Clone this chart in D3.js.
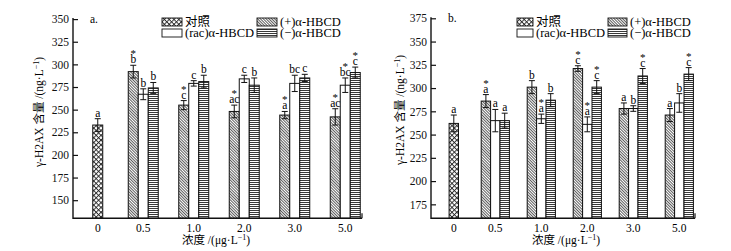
<!DOCTYPE html>
<html>
<head>
<meta charset="utf-8">
<script src="https://cdn.jsdelivr.net/npm/d3@7"></script>
<style>
  html, body { margin: 0; padding: 0; background: #fff; }
  svg { display: block; }
</style>
</head>
<body>
<svg id="chart" width="731" height="251"></svg>
<script>
// γ-H2AX content, two panels (a, b) — grouped bars with error bars and letter marks.

const CONC = ['0', '0.5', '1.0', '2.0', '3.0', '5.0'];
const SERIES = ['plus', 'rac', 'minus'];
const LEGEND = ['对照', '(+)α-HBCD', '(rac)α-HBCD', '(−)α-HBCD'];

// panel a
const A_TICKS = [150, 175, 200, 225, 250, 275, 300, 325, 350];
const A_CTRL = 233, A_CTRL_ERR = 7, A_CTRL_LBL = 'a';
const A_PLUS = [292, 255, 248, 244, 242];
const A_PLUS_ERR = [7, 5, 7, 4, 9];
const A_PLUS_LBL = ['b', 'c', 'ac', 'a', 'ac'];
const A_PLUS_STAR = [1, 1, 1, 1, 1];
const A_RAC = [267, 279, 284, 279, 277];
const A_RAC_ERR = [6, 3, 4, 9, 8];
const A_RAC_LBL = ['b', 'c', 'c', 'bc', 'bc'];
const A_RAC_STAR = [0, 0, 0, 0, 1];
const A_MINUS = [274, 281, 277, 285, 291];
const A_MINUS_ERR = [6, 7, 8, 4, 6];
const A_MINUS_LBL = ['b', 'b', 'b', 'c', 'c'];
const A_MINUS_STAR = [0, 0, 0, 0, 1];

// panel b
const B_TICKS = [175, 200, 225, 250, 275, 300, 325, 350, 375];
const B_CTRL = 262, B_CTRL_ERR = 9, B_CTRL_LBL = 'a';
const B_PLUS = [286, 301, 321, 278, 271];
const B_PLUS_ERR = [7, 7, 3, 6, 7];
const B_PLUS_LBL = ['a', 'b', 'c', 'a', 'a'];
const B_PLUS_STAR = [1, 0, 1, 0, 0];
const B_RAC = [265, 267, 261, 278, 284];
const B_RAC_ERR = [12, 5, 8, 3, 10];
const B_RAC_LBL = ['a', 'a', 'a', 'b', 'b'];
const B_RAC_STAR = [0, 1, 1, 0, 0];
const B_MINUS = [265, 287, 301, 313, 315];
const B_MINUS_ERR = [8, 7, 7, 8, 7];
const B_MINUS_LBL = ['a', 'b', 'c', 'c', 'c'];
const B_MINUS_STAR = [0, 0, 1, 1, 1];

const FONT = '"Liberation Serif", "Times New Roman", "Noto Sans CJK SC", serif';
const CJK = '"Noto Sans CJK SC", sans-serif';
const FILL = { ctrl: 'url(#p-cross)', plus: 'url(#p-diag)', rac: '#fff', minus: 'url(#p-horiz)' };

const svg = d3.select('#chart');
const defs = svg.append('defs');

// patterns
const cross = defs.append('pattern').attr('id', 'p-cross')
  .attr('patternUnits', 'userSpaceOnUse').attr('width', 3.4).attr('height', 3.4)
  .attr('patternTransform', 'rotate(45)');
cross.append('rect').attr('width', 3.4).attr('height', 3.4).attr('fill', '#fff');
cross.append('line').attr('x1', 0).attr('y1', 0.5).attr('x2', 3.4).attr('y2', 0.5).attr('stroke', '#222').attr('stroke-width', 0.9);
cross.append('line').attr('x1', 0.5).attr('y1', 0).attr('x2', 0.5).attr('y2', 3.4).attr('stroke', '#222').attr('stroke-width', 0.9);

const diag = defs.append('pattern').attr('id', 'p-diag')
  .attr('patternUnits', 'userSpaceOnUse').attr('width', 2).attr('height', 2)
  .attr('patternTransform', 'rotate(45)');
diag.append('rect').attr('width', 2).attr('height', 2).attr('fill', '#fff');
diag.append('line').attr('x1', 0).attr('y1', 0.5).attr('x2', 2).attr('y2', 0.5).attr('stroke', '#333').attr('stroke-width', 0.8);

const horiz = defs.append('pattern').attr('id', 'p-horiz')
  .attr('patternUnits', 'userSpaceOnUse').attr('width', 4).attr('height', 2);
horiz.append('rect').attr('width', 4).attr('height', 2).attr('fill', '#fff');
horiz.append('line').attr('x1', 0).attr('y1', 0.5).attr('x2', 4).attr('y2', 0.5).attr('stroke', '#222').attr('stroke-width', 0.9);

function rows(vals, errs, lbls, stars) {
  return vals.map((v, i) => ({ conc: CONC[i + 1], value: v, err: errs[i], lbl: lbls[i], star: stars[i] }));
}

const PANELS = [
  {
    tag: 'a.', ticks: A_TICKS, domain: [130, 350], yRange: [218.3, 19.1],
    xRange: [67.5, 370.5], ctrlShift: 5, barW: 10, axisX: 73, axisRight: 362,
    ctrl: { value: A_CTRL, err: A_CTRL_ERR, lbl: A_CTRL_LBL, star: 0 },
    series: {
      plus: rows(A_PLUS, A_PLUS_ERR, A_PLUS_LBL, A_PLUS_STAR),
      rac: rows(A_RAC, A_RAC_ERR, A_RAC_LBL, A_RAC_STAR),
      minus: rows(A_MINUS, A_MINUS_ERR, A_MINUS_LBL, A_MINUS_STAR)
    },
    tagPos: [90, 23], legend: { x: 162, col2: 257, y: 26, boxW: 20, boxW2: 20 },
    yTitle: [39, 112], xTitle: [216, 244]
  },
  {
    tag: 'b.', ticks: B_TICKS, domain: [160, 375], yRange: [218.3, 18.3],
    xRange: [426.3, 702.3], ctrlShift: 4.5, barW: 9.4, axisX: 431, axisRight: 695,
    ctrl: { value: B_CTRL, err: B_CTRL_ERR, lbl: B_CTRL_LBL, star: 0 },
    series: {
      plus: rows(B_PLUS, B_PLUS_ERR, B_PLUS_LBL, B_PLUS_STAR),
      rac: rows(B_RAC, B_RAC_ERR, B_RAC_LBL, B_RAC_STAR),
      minus: rows(B_MINUS, B_MINUS_ERR, B_MINUS_LBL, B_MINUS_STAR)
    },
    tagPos: [448, 22], legend: { x: 517, col2: 608, y: 26, boxW: 16, boxW2: 19 },
    yTitle: [400, 110], xTitle: [566, 244]
  }
];

PANELS.forEach(drawPanel);

function drawPanel(p) {
  const g = svg.append('g');
  const x = d3.scaleBand().domain(CONC).range(p.xRange).padding(0);
  const xs = d3.scaleBand().domain(SERIES).range([-1.5 * p.barW, 1.5 * p.barW]);
  const y = d3.scaleLinear().domain(p.domain).range(p.yRange);
  const base = y(p.domain[0]);
  const mid = c => x(c) + x.bandwidth() / 2;

  // bars
  const bars = [];
  bars.push({ cx: mid(CONC[0]) + p.ctrlShift, fill: FILL.ctrl, ...p.ctrl });
  SERIES.forEach(s => p.series[s].forEach(d => {
    bars.push({ cx: mid(d.conc) + xs(s) + xs.bandwidth() / 2, fill: FILL[s], ...d });
  }));

  g.selectAll('rect.bar').data(bars).join('rect')
    .attr('class', 'bar')
    .attr('x', d => d.cx - p.barW / 2).attr('width', p.barW)
    .attr('y', d => y(d.value)).attr('height', d => base - y(d.value))
    .attr('fill', d => d.fill).attr('stroke', '#111').attr('stroke-width', 1);

  // error bars
  const eb = g.selectAll('g.err').data(bars).join('g').attr('class', 'err')
    .attr('stroke', '#111').attr('stroke-width', 1);
  eb.append('line').attr('x1', d => d.cx).attr('x2', d => d.cx)
    .attr('y1', d => y(d.value + d.err)).attr('y2', d => y(d.value - d.err));
  eb.append('line').attr('x1', d => d.cx - 3).attr('x2', d => d.cx + 3)
    .attr('y1', d => y(d.value + d.err)).attr('y2', d => y(d.value + d.err));
  eb.append('line').attr('x1', d => d.cx - 3).attr('x2', d => d.cx + 3)
    .attr('y1', d => y(d.value - d.err)).attr('y2', d => y(d.value - d.err));

  // letter marks, star sits above the letter
  g.selectAll('text.lbl').data(bars).join('text').attr('class', 'lbl')
    .attr('x', d => d.cx).attr('y', d => y(d.value + d.err) - 2)
    .attr('text-anchor', 'middle').attr('font-family', FONT).attr('font-size', 11.5)
    .text(d => d.lbl);
  g.selectAll('text.star').data(bars.filter(d => d.star)).join('text').attr('class', 'star')
    .attr('x', d => d.cx).attr('y', d => y(d.value + d.err) - 8)
    .attr('text-anchor', 'middle').attr('font-family', FONT).attr('font-size', 11)
    .text('*');

  // y axis, ticks point inward
  const ya = g.append('g').attr('transform', `translate(${p.axisX},0)`)
    .call(d3.axisLeft(y).tickValues(p.ticks).tickSize(-5).tickPadding(4));
  ya.select('.domain').remove();
  ya.selectAll('line').attr('stroke', '#111').attr('stroke-width', 1.2);
  ya.selectAll('text').attr('font-family', FONT).attr('font-size', 11.5).attr('fill', '#111');
  g.append('line').attr('x1', p.axisX).attr('x2', p.axisX)
    .attr('y1', p.yRange[1] - 1).attr('y2', base + 0.7)
    .attr('stroke', '#111').attr('stroke-width', 1.4);

  // x axis
  g.append('line').attr('x1', p.axisX).attr('x2', p.axisRight)
    .attr('y1', base).attr('y2', base).attr('stroke', '#111').attr('stroke-width', 1.4);
  g.append('line').attr('x1', p.axisRight).attr('x2', p.axisRight)
    .attr('y1', base).attr('y2', base - 5).attr('stroke', '#111').attr('stroke-width', 1.2);
  g.selectAll('text.xt').data(CONC).join('text').attr('class', 'xt')
    .attr('x', (c, i) => mid(c) + (i === 0 ? p.ctrlShift : 0)).attr('y', base + 14)
    .attr('text-anchor', 'middle').attr('font-family', FONT).attr('font-size', 11.5)
    .text(c => c);

  // titles
  const xt = g.append('text').attr('x', p.xTitle[0]).attr('y', p.xTitle[1])
    .attr('text-anchor', 'middle').attr('font-family', FONT).attr('font-size', 11.5);
  xt.append('tspan').attr('font-family', CJK).text('浓度');
  xt.append('tspan').text(' /(μg·L');
  xt.append('tspan').attr('dy', -4).attr('font-size', 8).text('−1');
  xt.append('tspan').attr('dy', 4).text(')');

  const yt = g.append('text')
    .attr('transform', `translate(${p.yTitle[0]},${p.yTitle[1]}) rotate(-90)`)
    .attr('text-anchor', 'middle').attr('dy', 4)
    .attr('font-family', FONT).attr('font-size', 11.5);
  yt.append('tspan').text('γ-H2AX ');
  yt.append('tspan').attr('font-family', CJK).text('含量');
  yt.append('tspan').text(' /(ng·L');
  yt.append('tspan').attr('dy', -4).attr('font-size', 8).text('−1');
  yt.append('tspan').attr('dy', 4).text(')');

  g.append('text').attr('x', p.tagPos[0]).attr('y', p.tagPos[1])
    .attr('font-family', FONT).attr('font-size', 11.5).text(p.tag);

  // legend
  const L = p.legend;
  const items = [
    { name: LEGEND[0], fill: FILL.ctrl, x: L.x, w: L.boxW, row: 0, cjk: true },
    { name: LEGEND[1], fill: FILL.plus, x: L.col2, w: L.boxW2, row: 0 },
    { name: LEGEND[2], fill: FILL.rac, x: L.x, w: L.boxW, row: 1 },
    { name: LEGEND[3], fill: FILL.minus, x: L.col2, w: L.boxW2, row: 1 }
  ];
  const li = g.selectAll('g.leg').data(items).join('g').attr('class', 'leg')
    .attr('transform', d => `translate(${d.x},${L.y + d.row * 11})`);
  li.append('rect').attr('x', 0).attr('y', -8).attr('width', d => d.w).attr('height', 8)
    .attr('fill', d => d.fill).attr('stroke', '#111').attr('stroke-width', 0.9);
  li.append('text').attr('x', d => d.w + 3).attr('y', 0)
    .attr('font-family', d => d.cjk ? CJK : FONT)
    .attr('font-size', 12.5).text(d => d.name);
}
</script>
</body>
</html>
